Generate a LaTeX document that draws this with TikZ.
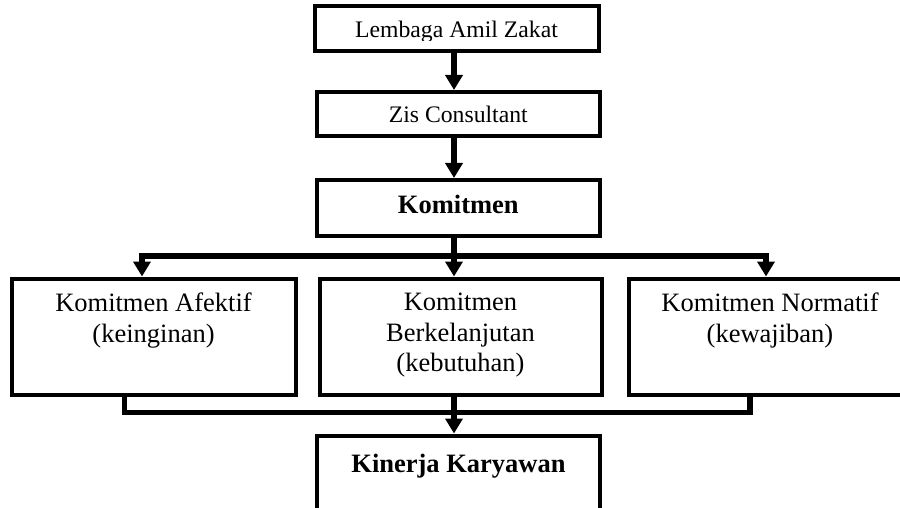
\documentclass[tikz,border=0pt]{standalone}
\usepackage{fontspec}
\setmainfont{Liberation Serif}
\usetikzlibrary{positioning,arrows.meta}

\begin{document}
\begin{tikzpicture}[x=1pt, y=-1pt,
  kotak/.style={draw, line width=4pt, inner sep=0pt},
  teks/.style={inner sep=0pt, align=center, font=\fontsize{26.5}{30.5}\selectfont},
  tekskecil/.style={teks, font=\fontsize{23.7}{28}\selectfont},
  garis/.style={line width=5.5pt},
  panah/.style={garis, -{Triangle[length=15pt, width=17pt]}}]
  \useasboundingbox[fill=white] (0,0) rectangle (900,508);

  % boxes
  \node[kotak, minimum width=284pt, minimum height=44.5pt] (lembaga) at (456.5,28.75) {};
  \node[kotak, minimum width=283.5pt, minimum height=44pt] (zis) at (458.3,114) {};
  \node[kotak, minimum width=283.5pt, minimum height=56pt] (komitmen) at (458.3,208) {};
  \node[kotak, minimum width=284pt, minimum height=116.5pt] (afektif) at (153.5,336.75) {};
  \node[kotak, minimum width=282pt, minimum height=116.5pt] (lanjut) at (460.5,336.75) {};
  \node[kotak, minimum width=282pt, minimum height=116.5pt] (normatif) at (770,336.75) {};
  \node[kotak, minimum width=283pt, minimum height=100pt] (kinerja) at (458.5,485.5) {};

  % texts (top one is cut off at its lower edge)
  \begin{scope}
    \clip (lembaga.north west) rectangle (lembaga.east |- 0,40.5);
    \node[tekskecil, below=16pt of lembaga.north] (lembagaT) {Lembaga Amil Zakat};
  \end{scope}
  \node[tekskecil, below=15.5pt of zis.north] (zisT) {Zis Consultant};
  \node[teks, below=16.7pt of komitmen.north] (komitmenT) {\textbf{Komitmen}};
  \node[teks, below=16.5pt of afektif.north] (afektifT) {Komitmen Afektif\\(keinginan)};
  \node[teks, below=16.5pt of lanjut.north] (lanjutT) {Komitmen\\Berkelanjutan\\(kebutuhan)};
  \node[teks, below=16.5pt of normatif.north] (normatifT) {Komitmen Normatif\\(kewajiban)};
  \node[teks, below=20.5pt of kinerja.north] (kinerjaT) {\textbf{Kinerja Karyawan}};

  % connectors
  \coordinate (spine) at (454,0);
  \coordinate (kiri) at (142,256);
  \coordinate (kanan) at (766,256);
  \coordinate (bkiri) at (124.5,412.5);
  \coordinate (bkanan) at (750,412.5);

  \draw[panah] (lembaga.south -| spine) -- (zis.north -| spine);
  \draw[panah] (zis.south -| spine) -- (komitmen.north -| spine);
  \draw[panah] (komitmen.south -| spine) -- (lanjut.north -| spine);
  \draw[panah] (spine |- kiri) -| (afektif.north -| kiri);
  \draw[panah] (spine |- kanan) -| (normatif.north -| kanan);
  \draw[garis] (afektif.south -| bkiri) |- (bkanan) -- (normatif.south -| bkanan);
  \draw[panah] (lanjut.south -| spine) -- (kinerja.north -| spine);
\end{tikzpicture}
\end{document}
